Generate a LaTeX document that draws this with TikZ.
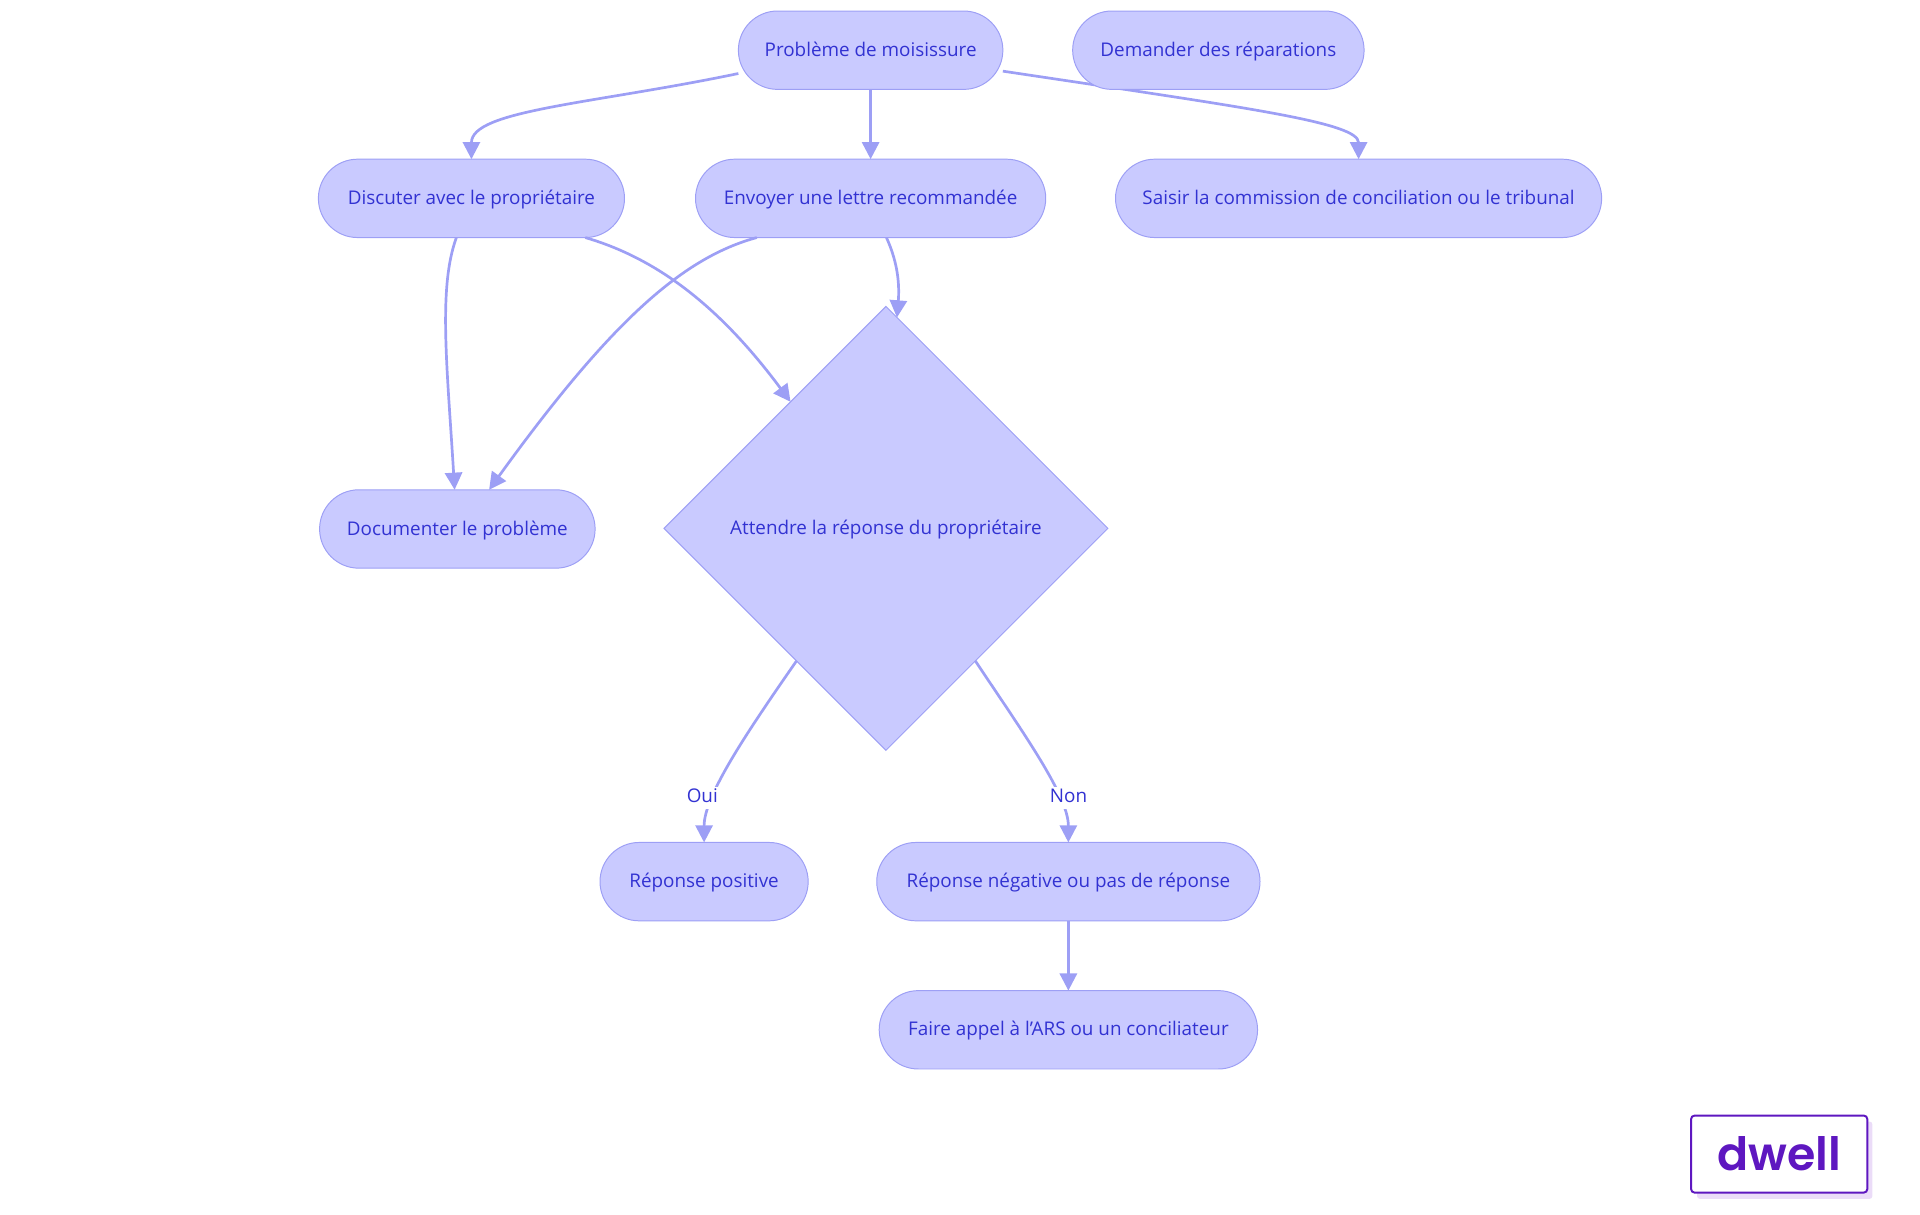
\documentclass[tikz,border=0pt]{standalone}
\usepackage{fontspec}
\setmainfont{Open Sans}
\newfontfamily\logofont{Poppins}[BoldFont={Poppins SemiBold}]
\usetikzlibrary{arrows.meta,shapes.geometric,backgrounds}
\definecolor{remplissage}{HTML}{C9CAFF}
\definecolor{contour}{HTML}{9D9FF5}
\definecolor{encre}{HTML}{3232D2}
\definecolor{violet}{HTML}{5E17C0}
\definecolor{ombre}{HTML}{EBDCF8}
\tikzset{
	etape/.style={draw=contour, fill=remplissage, text=encre, line width=0.8pt, rounded corners=32pt,
		minimum height=64pt, inner sep=0pt, outer sep=0pt, text height=13.5pt, text depth=3.5pt,
		font=\fontsize{15.4}{18}\selectfont},
	choix/.style={diamond, aspect=1, draw=contour, fill=remplissage, text=encre, line width=0.8pt,
		minimum width=362.5pt, minimum height=362.5pt, inner sep=0pt, outer sep=0pt, text height=13pt, text depth=3.5pt,
		font=\fontsize{15.4}{18}\selectfont},
	lien/.style={draw=contour, line width=2.2pt, -{Triangle[length=14pt,width=14pt]}},
	etiq/.style={fill=white, text=encre, inner sep=0pt, minimum height=18pt, text height=11.5pt, text depth=3.5pt,
		font=\fontsize{15.4}{18}\selectfont},
}

\begin{document}
\begin{tikzpicture}[x=1pt,y=-1pt]
	\useasboundingbox (0,0) rectangle (1568,992.25);
	\draw
		(711,41) node [etape, minimum width=216pt] (pb) {Problème de moisissure}
		(995,41) node [etape, minimum width=238pt] (rep) {Demander des réparations}
		(385,162) node [etape, minimum width=250pt] (disc) {Discuter avec le propriétaire}
		(711,162) node [etape, minimum width=286pt] (lettre) {Envoyer une lettre recommandée}
		(1109.5,162) node [etape, minimum width=397pt] (saisir) {Saisir la commission de conciliation ou le tribunal}
		(373.5,432) node [etape, minimum width=225pt] (doc) {Documenter le problème}
		(723.5,431.5) node [choix] (att) {Attendre la réponse du propriétaire}
		(575,720) node [etape, minimum width=170pt] (oui) {Réponse positive}
		(872.5,720) node [etape, minimum width=313pt] (non) {Réponse négative ou pas de réponse}
		(872.5,841) node [etape, minimum width=309pt] (ars) {Faire appel à l'ARS ou un conciliateur}
		;
	\draw[lien] (pb.190.5) .. controls +(-120,25) and +(0,-40) .. (disc.north);
	\draw[lien] (pb) -- (lettre);
	\begin{scope}[on background layer]
		\draw[lien] (pb.351.6) .. controls +(200,30) and +(0,-30) .. (saisir.north);
	\end{scope}
	\draw[lien] (disc.249.4) .. controls +(-15,41) and +(-6,-100) .. (doc.94.5);
	\draw[lien] (disc.341) .. controls +(62,18) and +(-55,-74) .. (att.127);
	\draw[lien] (lettre.199.2) .. controls +(-59,16) and +(101,-140) .. (doc.51.4);
	\draw[lien] (lettre.292.1) .. controls +(10,22) and +(2,-25) .. (att.87.5);
	\draw[lien] (att.236.6) .. controls +(-41,59) and +(0,-38) .. node [etiq, pos=0.7, xshift=-10pt, yshift=-1pt] (loui) {Oui} (oui.north);
	\draw[lien] (att.304.4) .. controls +(40,60) and +(0,-38) .. node [etiq, pos=0.7, xshift=9pt, yshift=-1pt] (lnon) {Non} (non.north);
	\draw[lien] (non) -- (ars);
	% logo
	\fill[ombre, rounded corners=2pt] (1386,916) rectangle (1529,979);
	\node [draw=violet, fill=white, line width=1.6pt, rounded corners=3pt, minimum width=144pt, minimum height=63pt,
		text=violet, inner sep=0pt, font=\logofont\bfseries\fontsize{37.5}{40}\selectfont] (logo) at (1453,942.5) {dwell};
\end{tikzpicture}
\end{document}
